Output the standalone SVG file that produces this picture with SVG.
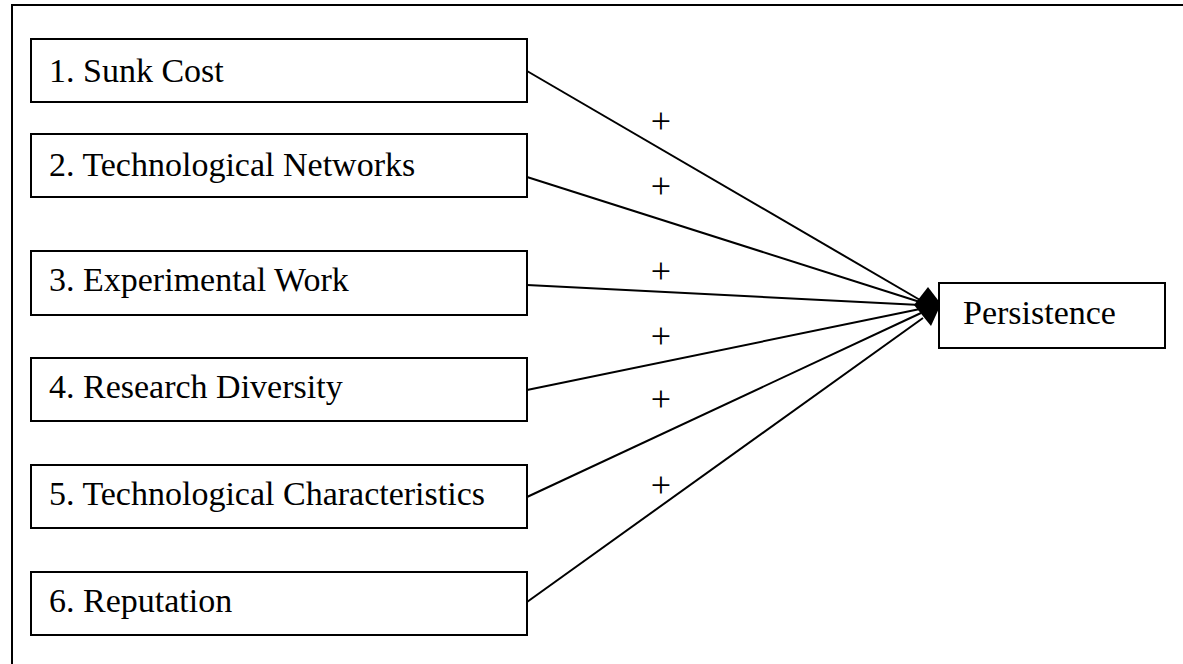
<svg xmlns="http://www.w3.org/2000/svg" width="1183" height="664" viewBox="0 0 1183 664">
  <style>
    .box { fill: #ffffff; stroke: #000000; stroke-width: 2; }
    .label { font-family: "Liberation Serif", "Times New Roman", serif; font-size: 34px; fill: #000000; }
    .sign { font-family: "Liberation Serif", "Times New Roman", serif; font-size: 36px; fill: #000000; text-anchor: middle; }
    .link { stroke: #000000; stroke-width: 2; fill: none; }
    .frame { stroke: #000000; stroke-width: 2; fill: none; }
  </style>
  <rect x="0" y="0" width="1183" height="664" fill="#ffffff"/>

  <!-- outer frame (top and left edges) -->
  <path class="frame" d="M12,664 L12,5 L1183,5"/>

  <!-- connectors from the factors to the outcome -->
  <g id="connectors">
    <line class="link" x1="527" y1="71" x2="920" y2="300"/>
    <line class="link" x1="527" y1="177" x2="920" y2="302"/>
    <line class="link" x1="527" y1="285" x2="920" y2="305"/>
    <line class="link" x1="527" y1="390" x2="920" y2="309"/>
    <line class="link" x1="527" y1="497" x2="921" y2="313"/>
    <line class="link" x1="527" y1="602" x2="923" y2="318"/>
    <polygon points="914,305 928,287 941,304 931,326" fill="#000000"/>
    <text class="sign" x="661" y="133">+</text>
    <text class="sign" x="661" y="198">+</text>
    <text class="sign" x="661" y="283">+</text>
    <text class="sign" x="661" y="348">+</text>
    <text class="sign" x="661" y="411">+</text>
    <text class="sign" x="661" y="497">+</text>
  </g>

  <g id="sunk-cost">
    <rect class="box" x="31" y="39" width="496" height="63"/>
    <text class="label" x="49" y="82">1. Sunk Cost</text>
  </g>
  <g id="technological-networks">
    <rect class="box" x="31" y="134" width="496" height="63"/>
    <text class="label" x="49" y="176">2. Technological Networks</text>
  </g>
  <g id="experimental-work">
    <rect class="box" x="31" y="251" width="496" height="64"/>
    <text class="label" x="49" y="291">3. Experimental Work</text>
  </g>
  <g id="research-diversity">
    <rect class="box" x="31" y="358" width="496" height="63"/>
    <text class="label" x="49" y="398">4. Research Diversity</text>
  </g>
  <g id="technological-characteristics">
    <rect class="box" x="31" y="465" width="496" height="63"/>
    <text class="label" x="49" y="505">5. Technological Characteristics</text>
  </g>
  <g id="reputation">
    <rect class="box" x="31" y="572" width="496" height="63"/>
    <text class="label" x="49" y="612">6. Reputation</text>
  </g>
  <g id="persistence">
    <rect class="box" x="939" y="283" width="226" height="65"/>
    <text class="label" x="963" y="324">Persistence</text>
  </g>
</svg>
